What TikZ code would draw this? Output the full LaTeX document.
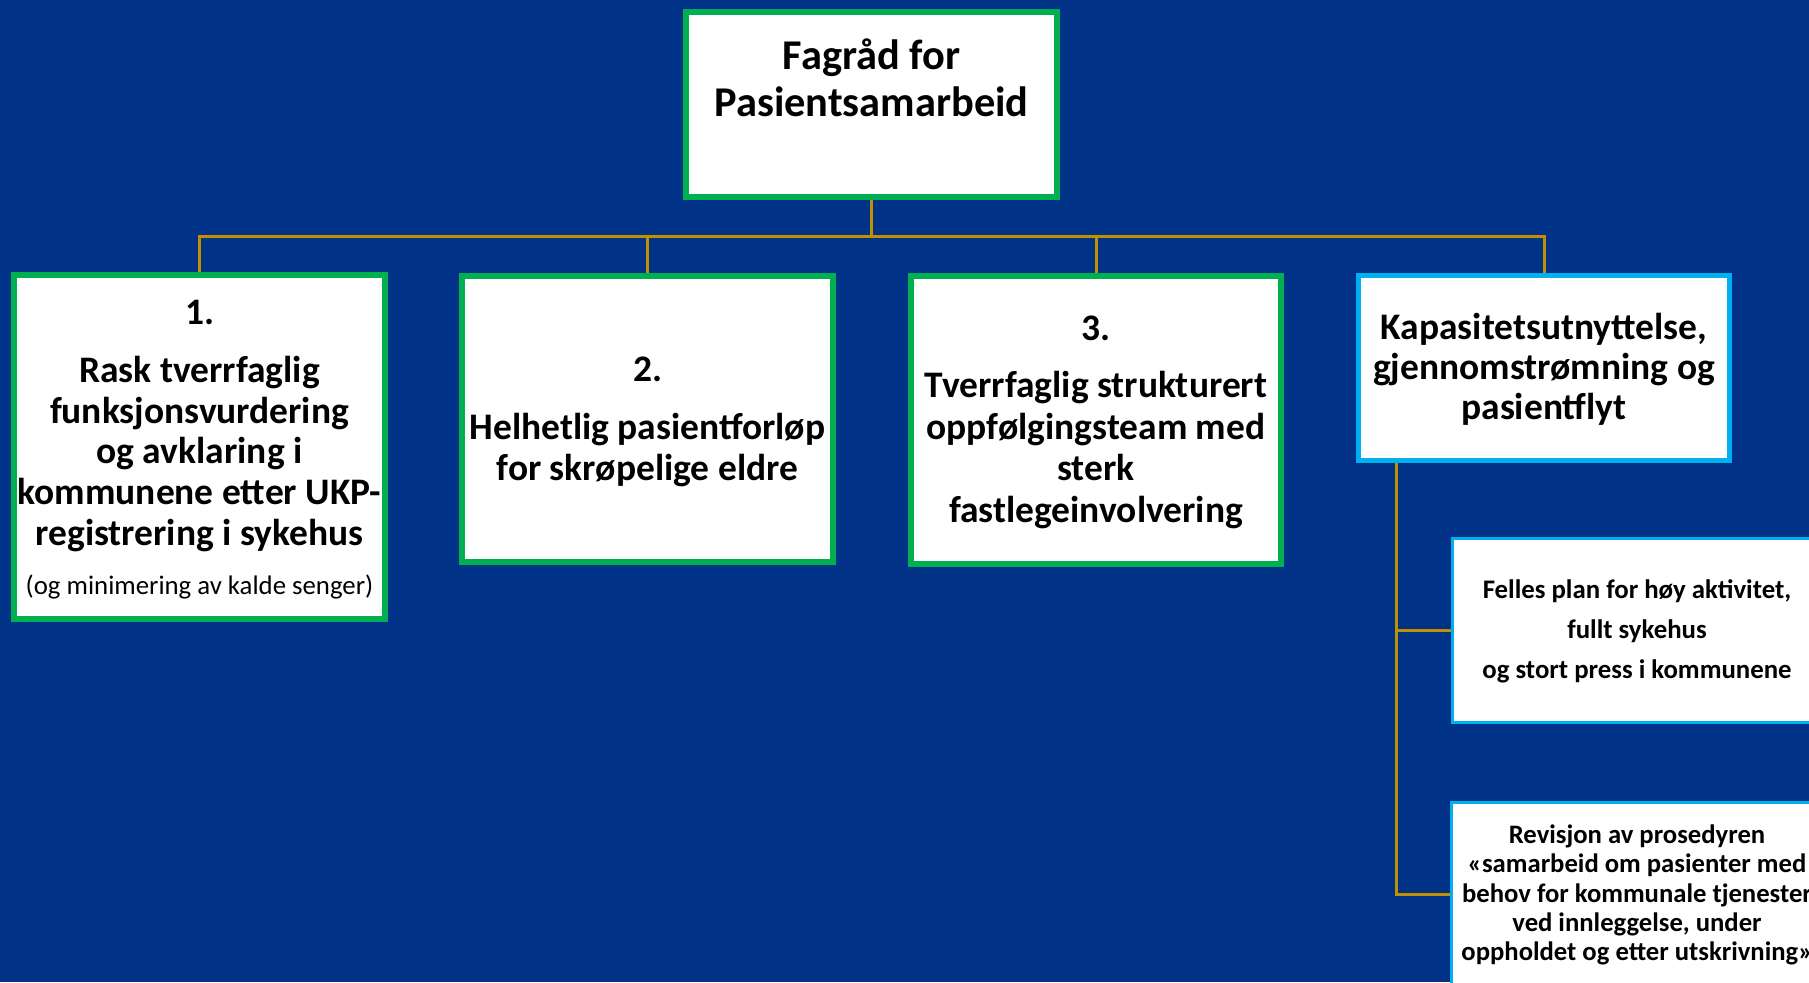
\documentclass[tikz,border=0pt]{standalone}
\usepackage{fontspec}
\setmainfont{Carlito}
\definecolor{bgblue}{HTML}{003388}
\definecolor{fgreen}{HTML}{00B050}
\definecolor{fblue}{HTML}{00B0F0}
\definecolor{fgold}{HTML}{BF9000}
\newdimen\pxu \pxu=0.75pt
\tikzset{
  box/.style={draw, fill=white, inner sep=0pt, line width=6\pxu},
  gbox/.style={box, draw=fgreen},
  bbox/.style={box, draw=fblue, line width=5\pxu},
  sbox/.style={box, draw=fblue, line width=3\pxu},
  conn/.style={draw=fgold, line width=3\pxu},
  txt/.style={align=center, inner sep=0pt, text=black},
}
\begin{document}
\begin{tikzpicture}[x=0.75pt,y=-0.75pt]
\useasboundingbox (0,0) rectangle (1809,982);
\fill[bgblue] (0,0) rectangle (1809,982);
\clip (0,0) rectangle (1809,982);

% boxes
\node[gbox, minimum width=371\pxu, minimum height=185\pxu] (top) at (871.5,104.5) {};
\node[gbox, minimum width=371\pxu, minimum height=344\pxu] (b1) at (199.5,447) {};
\node[gbox, minimum width=371\pxu, minimum height=286\pxu] (b2) at (647.5,419) {};
\node[gbox, minimum width=370\pxu, minimum height=288\pxu] (b3) at (1096,420) {};
\node[bbox, minimum width=371\pxu, minimum height=185\pxu] (b4) at (1544,368) {};
\node[sbox, minimum width=369\pxu, minimum height=184\pxu] (b5) at (1637,630.5) {};
\node[sbox, minimum width=371\pxu, minimum height=184\pxu] (b6) at (1636.5,894) {};

% connectors
\coordinate (bus) at (871.5,236);
\draw[conn] (top.south) -- (bus);
\draw[conn] (bus) -| (b1.north);
\draw[conn] (bus) -| (b2.north);
\draw[conn] (bus) -| (b3.north);
\draw[conn] (bus) -| (b4.north);
\coordinate (s4) at ([xshift=-148\pxu]b4.south);
\draw[conn] (s4) |- (b5.west);
\draw[conn] (s4) |- (b6.west);

% texts
\node[txt, font=\bfseries\fontsize{31.8}{35.25}\selectfont] (t0) at (871.5,78) {Fagråd for\\Pasientsamarbeid};

\node[txt, anchor=base, font=\bfseries\fontsize{28.1}{29}\selectfont] (n1) at (199.5,324) {1.};
\node[txt, font=\bfseries\fontsize{28.1}{30.7}\selectfont] (t1) at (199.5,454) {Rask tverrfaglig\\funksjonsvurdering\\og avklaring i\\kommunene etter UKP-\\registrering i sykehus};
\node[txt, anchor=base, font=\fontsize{20.1}{24}\selectfont] (p1) at (199.5,594) {(og minimering av kalde senger)};

\node[txt, anchor=base, font=\bfseries\fontsize{28.1}{30}\selectfont] (n2) at (647.5,381) {2.};
\node[txt, font=\bfseries\fontsize{28.1}{31.1}\selectfont] (t2) at (647.5,450) {Helhetlig pasientforløp\\for skrøpelige eldre};

\node[txt, anchor=base, font=\bfseries\fontsize{28.1}{31.3}\selectfont] (n3) at (1096,340) {3.};
\node[txt, font=\bfseries\fontsize{28.1}{31.1}\selectfont] (t3) at (1096,450) {Tverrfaglig strukturert\\oppfølgingsteam med\\sterk\\fastlegeinvolvering};

\node[txt, font=\bfseries\fontsize{28.1}{29.9}\selectfont] (t4) at (1544,369) {Kapasitetsutnyttelse,\\gjennomstrømning og\\pasientflyt};

\node[txt, font=\bfseries\fontsize{20.1}{30}\selectfont] (t5) at (1637,631) {Felles plan for høy aktivitet,\\fullt sykehus\\og stort press i kommunene};

\node[txt, font=\bfseries\fontsize{20}{22}\selectfont] (t6) at (1637,895) {Revisjon av prosedyren\\«samarbeid om pasienter med\\behov for kommunale tjenester\\ved innleggelse, under\\oppholdet og etter utskrivning»};
\end{tikzpicture}
\end{document}
